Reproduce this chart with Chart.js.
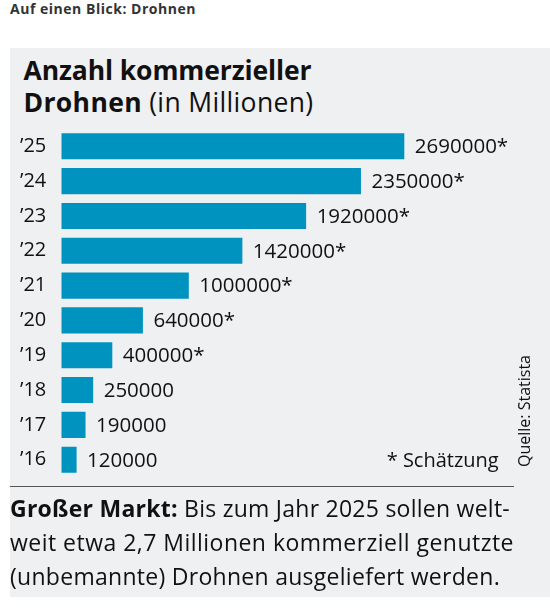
<!DOCTYPE html>
<html>
<head>
<meta charset="utf-8">
<script src="https://cdn.jsdelivr.net/npm/chart.js@4/dist/chart.umd.min.js"></script>
<style>
  html, body { margin: 0; padding: 0; background: #fff; width: 550px; height: 609px; overflow: hidden; }
  body { position: relative; font-family: "Open Sans", sans-serif; color: #111; }
  .abs { position: absolute; white-space: nowrap; line-height: 1; }
  #panel { position: absolute; left: 10px; top: 47.5px; width: 540px; height: 549.5px; background: #eff0f2; }
  #wrap { position: absolute; left: 0; top: 0; width: 550px; height: 609px; }
  b { font-weight: 700; }
</style>
</head>
<body>
<div id="panel"></div>
<div class="abs fit" data-w="186" style="left:10px; top:1.6px; font-size:14px; font-weight:700; color:#333;">Auf einen Blick: Drohnen</div>
<div class="abs fit" data-w="288" style="left:23.5px; top:56.5px; font-size:26.5px; font-weight:700;">Anzahl kommerzieller</div>
<div class="abs fit" data-w="290" style="left:23.5px; top:88.5px; font-size:26.5px;"><b>Drohnen</b> (in Millionen)</div>
<div id="wrap"><canvas id="c"></canvas></div>
<div class="abs" style="left:386.7px; top:450.2px; font-size:20px;">* Schätzung</div>
<div class="abs" style="left:516.2px; top:467px; font-size:16px; transform-origin:0 0; transform:rotate(-90deg);">Quelle: Statista</div>
<div style="position:absolute; left:10px; top:485.5px; width:504px; height:1.5px; background:#555;"></div>
<div class="abs fit" data-w="500" style="left:10px; top:496.6px; font-size:23px;"><b>Großer Markt:</b> Bis zum Jahr 2025 sollen welt-</div>
<div class="abs fit" data-w="504" style="left:10px; top:530.6px; font-size:23px;">weit etwa 2,7 Millionen kommerziell genutzte</div>
<div class="abs fit" data-w="490" style="left:10px; top:564.6px; font-size:23px;">(unbemannte) Drohnen ausgeliefert werden.</div>
<script>
const years = ['’16', '’17', '’18', '’19', '’20', '’21', '’22', '’23', '’24', '’25'];
const drones = [120000, 190000, 250000, 400000, 640000, 1000000, 1420000, 1920000, 2350000, 2690000];
const estimated = [false, false, false, true, true, true, true, true, true, true];

function fitTexts() {
  document.querySelectorAll('.fit').forEach(el => {
    el.style.letterSpacing = '0px';
    const w = el.getBoundingClientRect().width;
    const n = el.textContent.length;
    const target = parseFloat(el.dataset.w);
    el.style.letterSpacing = ((target - w) / n) + 'px';
  });
}
fitTexts();
if (document.fonts && document.fonts.ready) document.fonts.ready.then(fitTexts);

const valueLabels = {
  id: 'valueLabels',
  afterDatasetsDraw(chart) {
    const ctx = chart.ctx;
    const meta = chart.getDatasetMeta(0);
    ctx.save();
    ctx.font = '20.5px "Open Sans"';
    ctx.fillStyle = '#111';
    ctx.textAlign = 'left';
    ctx.textBaseline = 'middle';
    meta.data.forEach((bar, i) => {
      const txt = String(drones[i]) + (estimated[i] ? '*' : '');
      ctx.fillText(txt, bar.x + 10.5, bar.y + 1);
    });
    ctx.restore();
  }
};

new Chart(document.getElementById('c'), {
  type: 'bar',
  data: {
    labels: years,
    datasets: [{
      data: drones,
      backgroundColor: '#0093bf',
      borderWidth: 0,
      categoryPercentage: 1,
      barPercentage: 0.75
    }]
  },
  options: {
    indexAxis: 'y',
    responsive: true,
    maintainAspectRatio: false,
    animation: false,
    layout: { padding: { left: 20, right: 42.4, top: 128.9, bottom: 131.9 } },
    plugins: { legend: { display: false }, tooltip: { enabled: false }, title: { display: false } },
    scales: {
      x: { display: false, min: 0, max: 3500000 },
      y: {
        reverse: true,
        grid: { display: false, drawTicks: false },
        border: { display: false },
        ticks: { crossAlign: 'far', padding: 0, color: '#111', font: { family: 'Open Sans', size: 20 } },
        afterFit(scale) { scale.width = 41.3; }
      }
    }
  },
  plugins: [valueLabels]
});
</script>
</body>
</html>
